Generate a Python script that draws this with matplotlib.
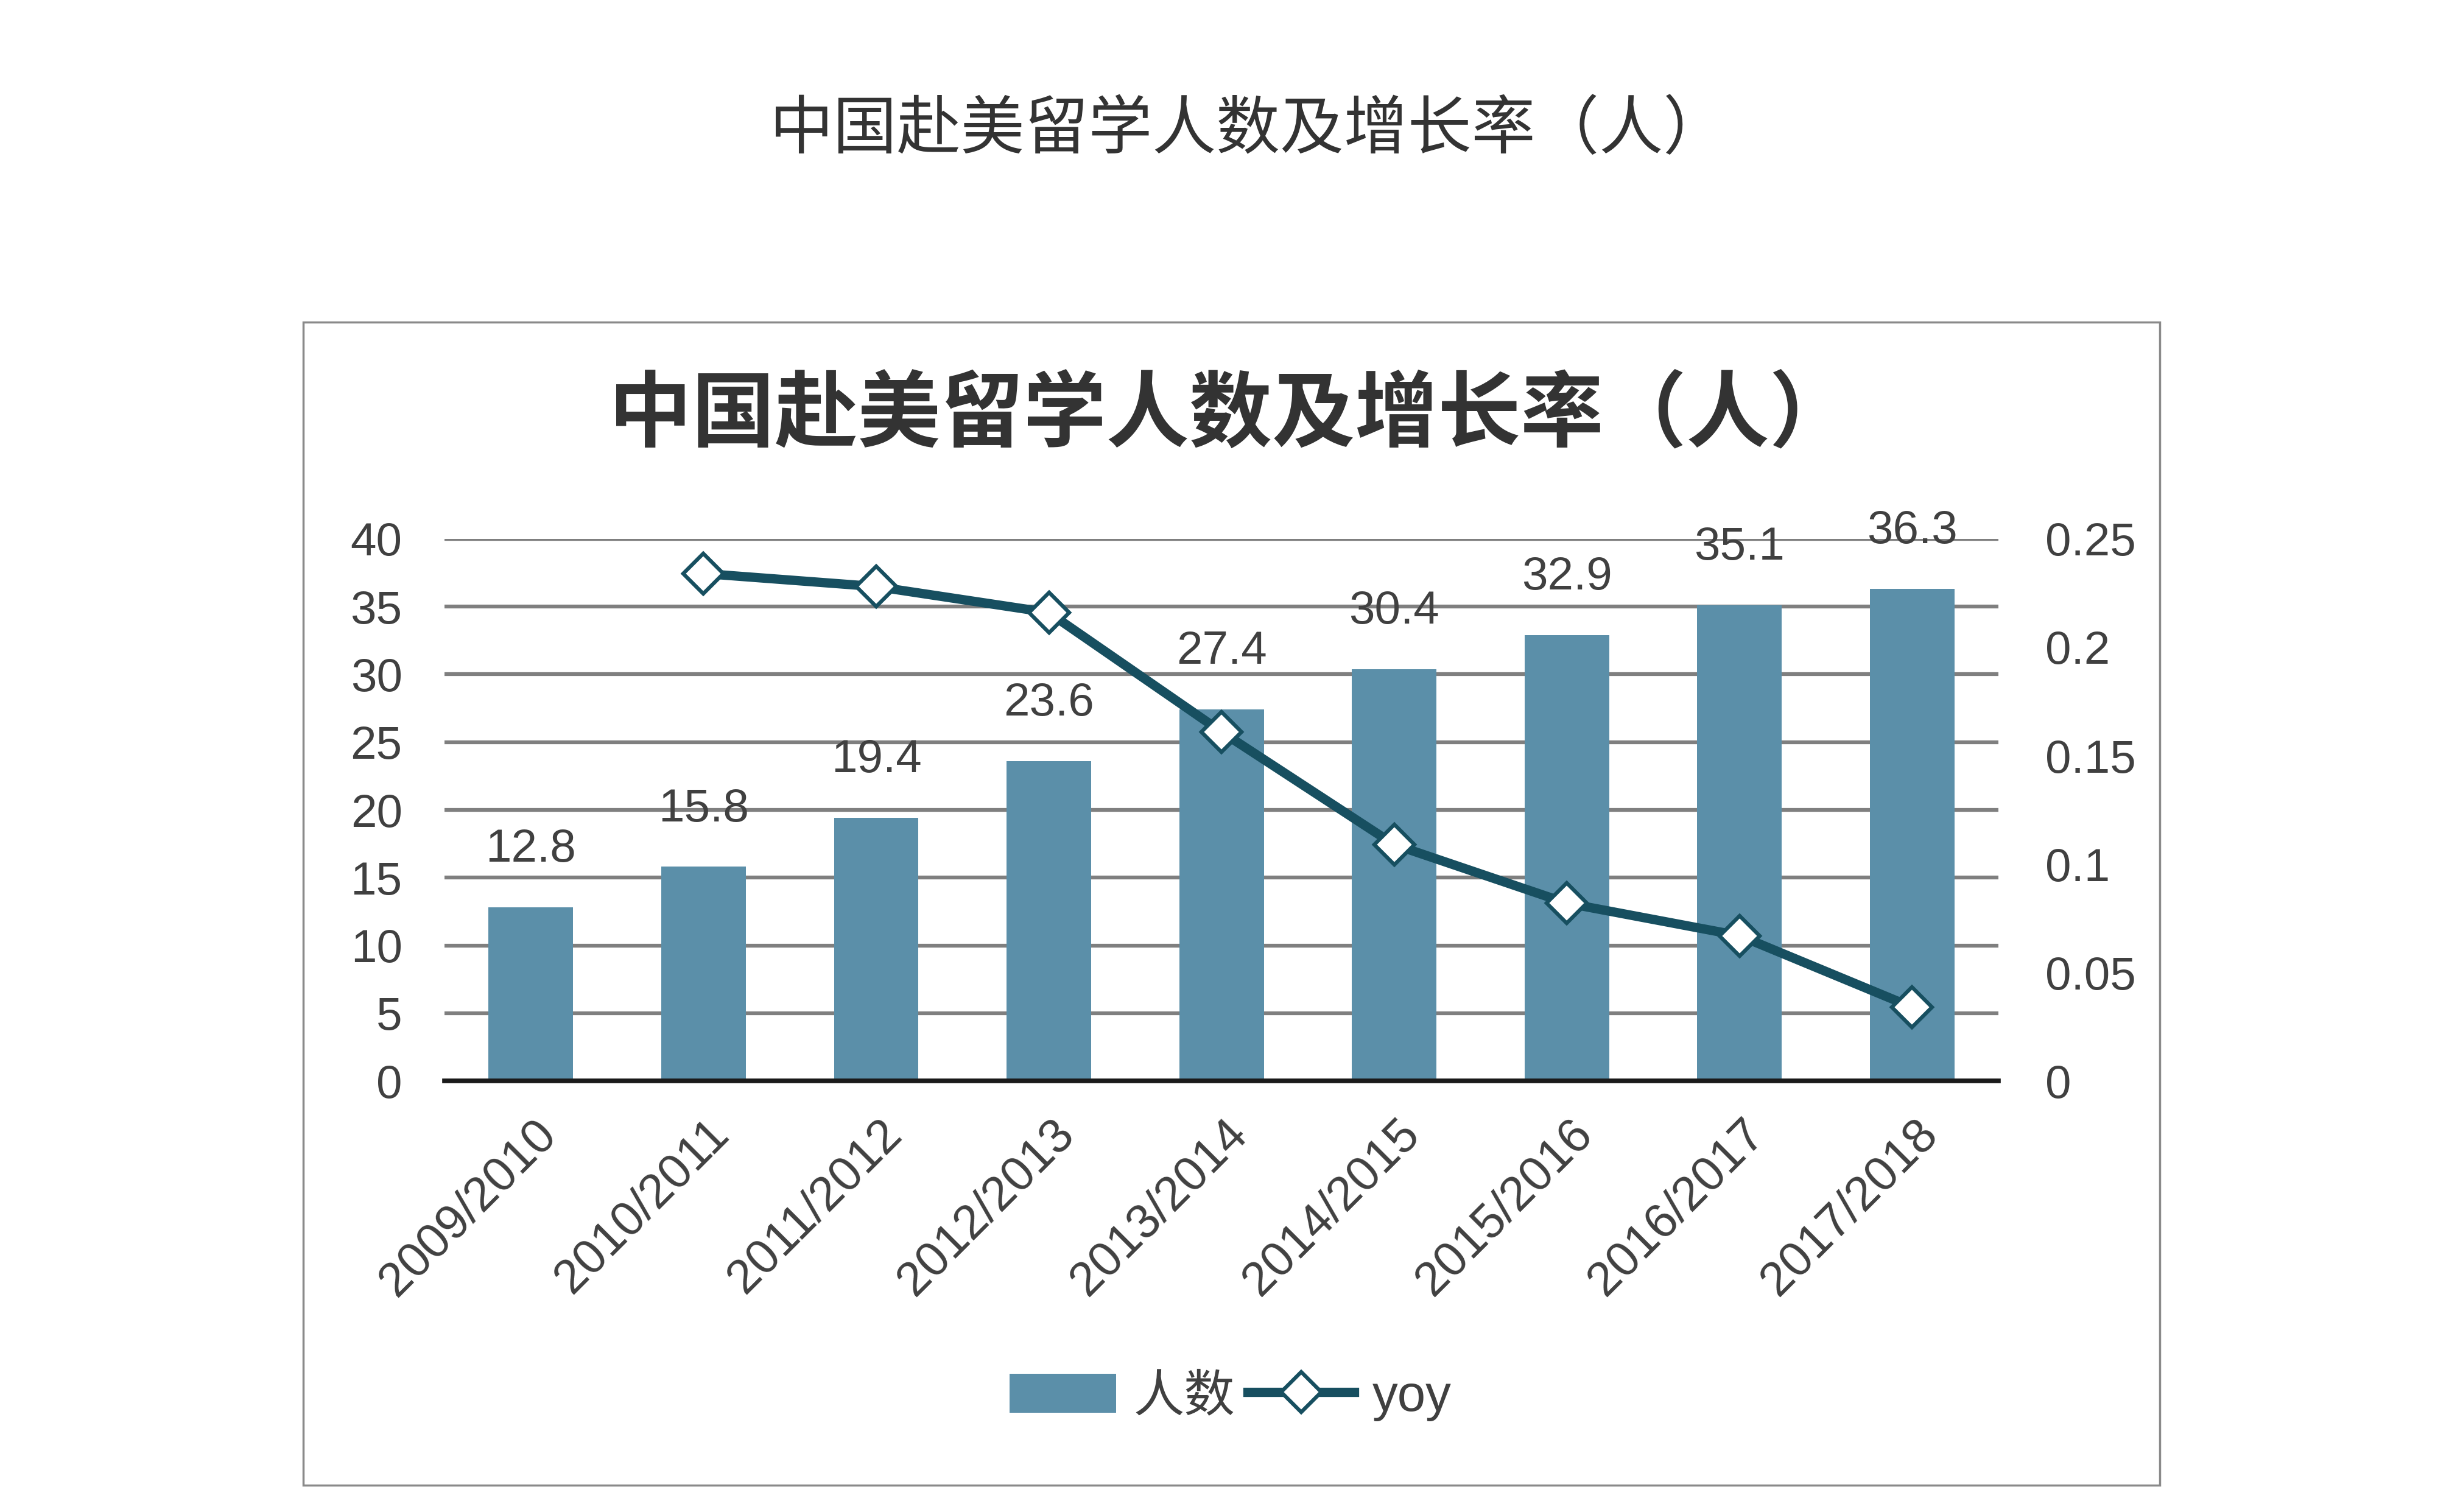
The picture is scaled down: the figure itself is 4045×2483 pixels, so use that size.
import matplotlib
matplotlib.use("Agg")
import matplotlib.pyplot as plt
import matplotlib.transforms as mtransforms
from matplotlib.patches import Rectangle
import numpy as np

plt.rcParams['font.family'] = ['Liberation Sans', 'Noto Sans CJK SC', 'DejaVu Sans']

# данные
years = ['2009/2010', '2010/2011', '2011/2012', '2012/2013', '2013/2014',
         '2014/2015', '2015/2016', '2016/2017', '2017/2018']
students = [12.8, 15.8, 19.4, 23.6, 27.4, 30.4, 32.9, 35.1, 36.3]
yoy_years = years[1:]
yoy = [0.234, 0.228, 0.216, 0.161, 0.109, 0.082, 0.067, 0.034]

left_ticks = [0, 5, 10, 15, 20, 25, 30, 35, 40]
right_ticks = [0, 0.05, 0.1, 0.15, 0.2, 0.25]
right_labels = ['0', '0.05', '0.1', '0.15', '0.2', '0.25']

bar_color = '#5b8fa9'
line_color = '#174f60'
text_color = '#404040'

fig = plt.figure(figsize=(40.45, 24.83), dpi=100)
fig.patch.set_facecolor('white')

# внешний заголовок
fig.text(0.507, 0.914, '中国赴美留学人数及增长率（人）', ha='center', va='center',
         fontsize=75.5, color='#333333', family=['Noto Sans CJK SC'])

# рамка диаграммы
fig.patches.append(Rectangle((0.123, 0.0177), 0.754, 0.7693, transform=fig.transFigure,
                             fill=False, edgecolor='#8a8a8a', linewidth=2.5))

# внутренний заголовок
fig.text(0.4995, 0.725, '中国赴美留学人数及增长率（人）', ha='center', va='center',
         fontsize=98, fontweight='bold', color='#333333', family=['Noto Sans CJK SC'])

ax = fig.add_axes([0.1805, 0.2851, 0.6309, 0.3585])
x = np.arange(len(years))
ax.bar(x, students, width=0.49, color=bar_color, zorder=2)
ax.set_xlim(-0.5, len(years) - 0.5)
ax.set_ylim(0, 40)
ax.set_yticks(left_ticks)
ax.yaxis.grid(True, color='#7f7f7f', linewidth=4.5, zorder=0)
ax.set_axisbelow(True)
for s in ['left', 'right', 'top']:
    ax.spines[s].set_visible(False)
ax.spines['bottom'].set_color('#1a1a1a')
ax.spines['bottom'].set_linewidth(5.5)
ax.spines['bottom'].set_zorder(3)
ax.tick_params(axis='both', length=0, labelsize=55, labelcolor=text_color)
ax.tick_params(axis='y', pad=50)
ax.set_xticks(x)
ax.set_xticklabels(years, rotation=45, ha='right', va='center', rotation_mode='anchor', fontsize=57)
ax.tick_params(axis='x', pad=55)
offset = mtransforms.ScaledTranslation(0.3, 0, fig.dpi_scale_trans)
for lab in ax.get_xticklabels():
    lab.set_transform(lab.get_transform() + offset)

for xi, v in zip(x, students):
    ax.annotate(f'{v}', (xi, v), xytext=(0, 68), textcoords='offset points',
                ha='center', va='center', fontsize=55, color=text_color, zorder=1)

ax2 = ax.twinx()
ax2.set_ylim(0, 0.25)
ax2.set_yticks(right_ticks)
ax2.set_yticklabels(right_labels)
for s in ['left', 'right', 'top', 'bottom']:
    ax2.spines[s].set_visible(False)
ax2.tick_params(axis='y', length=0, labelsize=55, labelcolor=text_color, pad=55)
xl = [years.index(y) for y in yoy_years]
ax2.plot(xl, yoy, color=line_color, linewidth=11, marker='D', markersize=34,
         markerfacecolor='white', markeredgecolor=line_color, markeredgewidth=4.5, zorder=4)

# легенда
bar_h = ax.bar([0], [0], color=bar_color)
line_h, = ax.plot([], [], color=line_color, linewidth=11, marker='D', markersize=34,
                  markerfacecolor='white', markeredgecolor=line_color, markeredgewidth=4.5)
fig.legend([bar_h, line_h], ['人数', 'yoy'], loc='center', bbox_to_anchor=(0.4995, 0.0758),
           ncol=2, frameon=False, fontsize=60, handlelength=2.1, handleheight=0.8,
           handletextpad=0.35, columnspacing=0.25, labelcolor=text_color)

fig.savefig('out.png', dpi=100, facecolor='white')
